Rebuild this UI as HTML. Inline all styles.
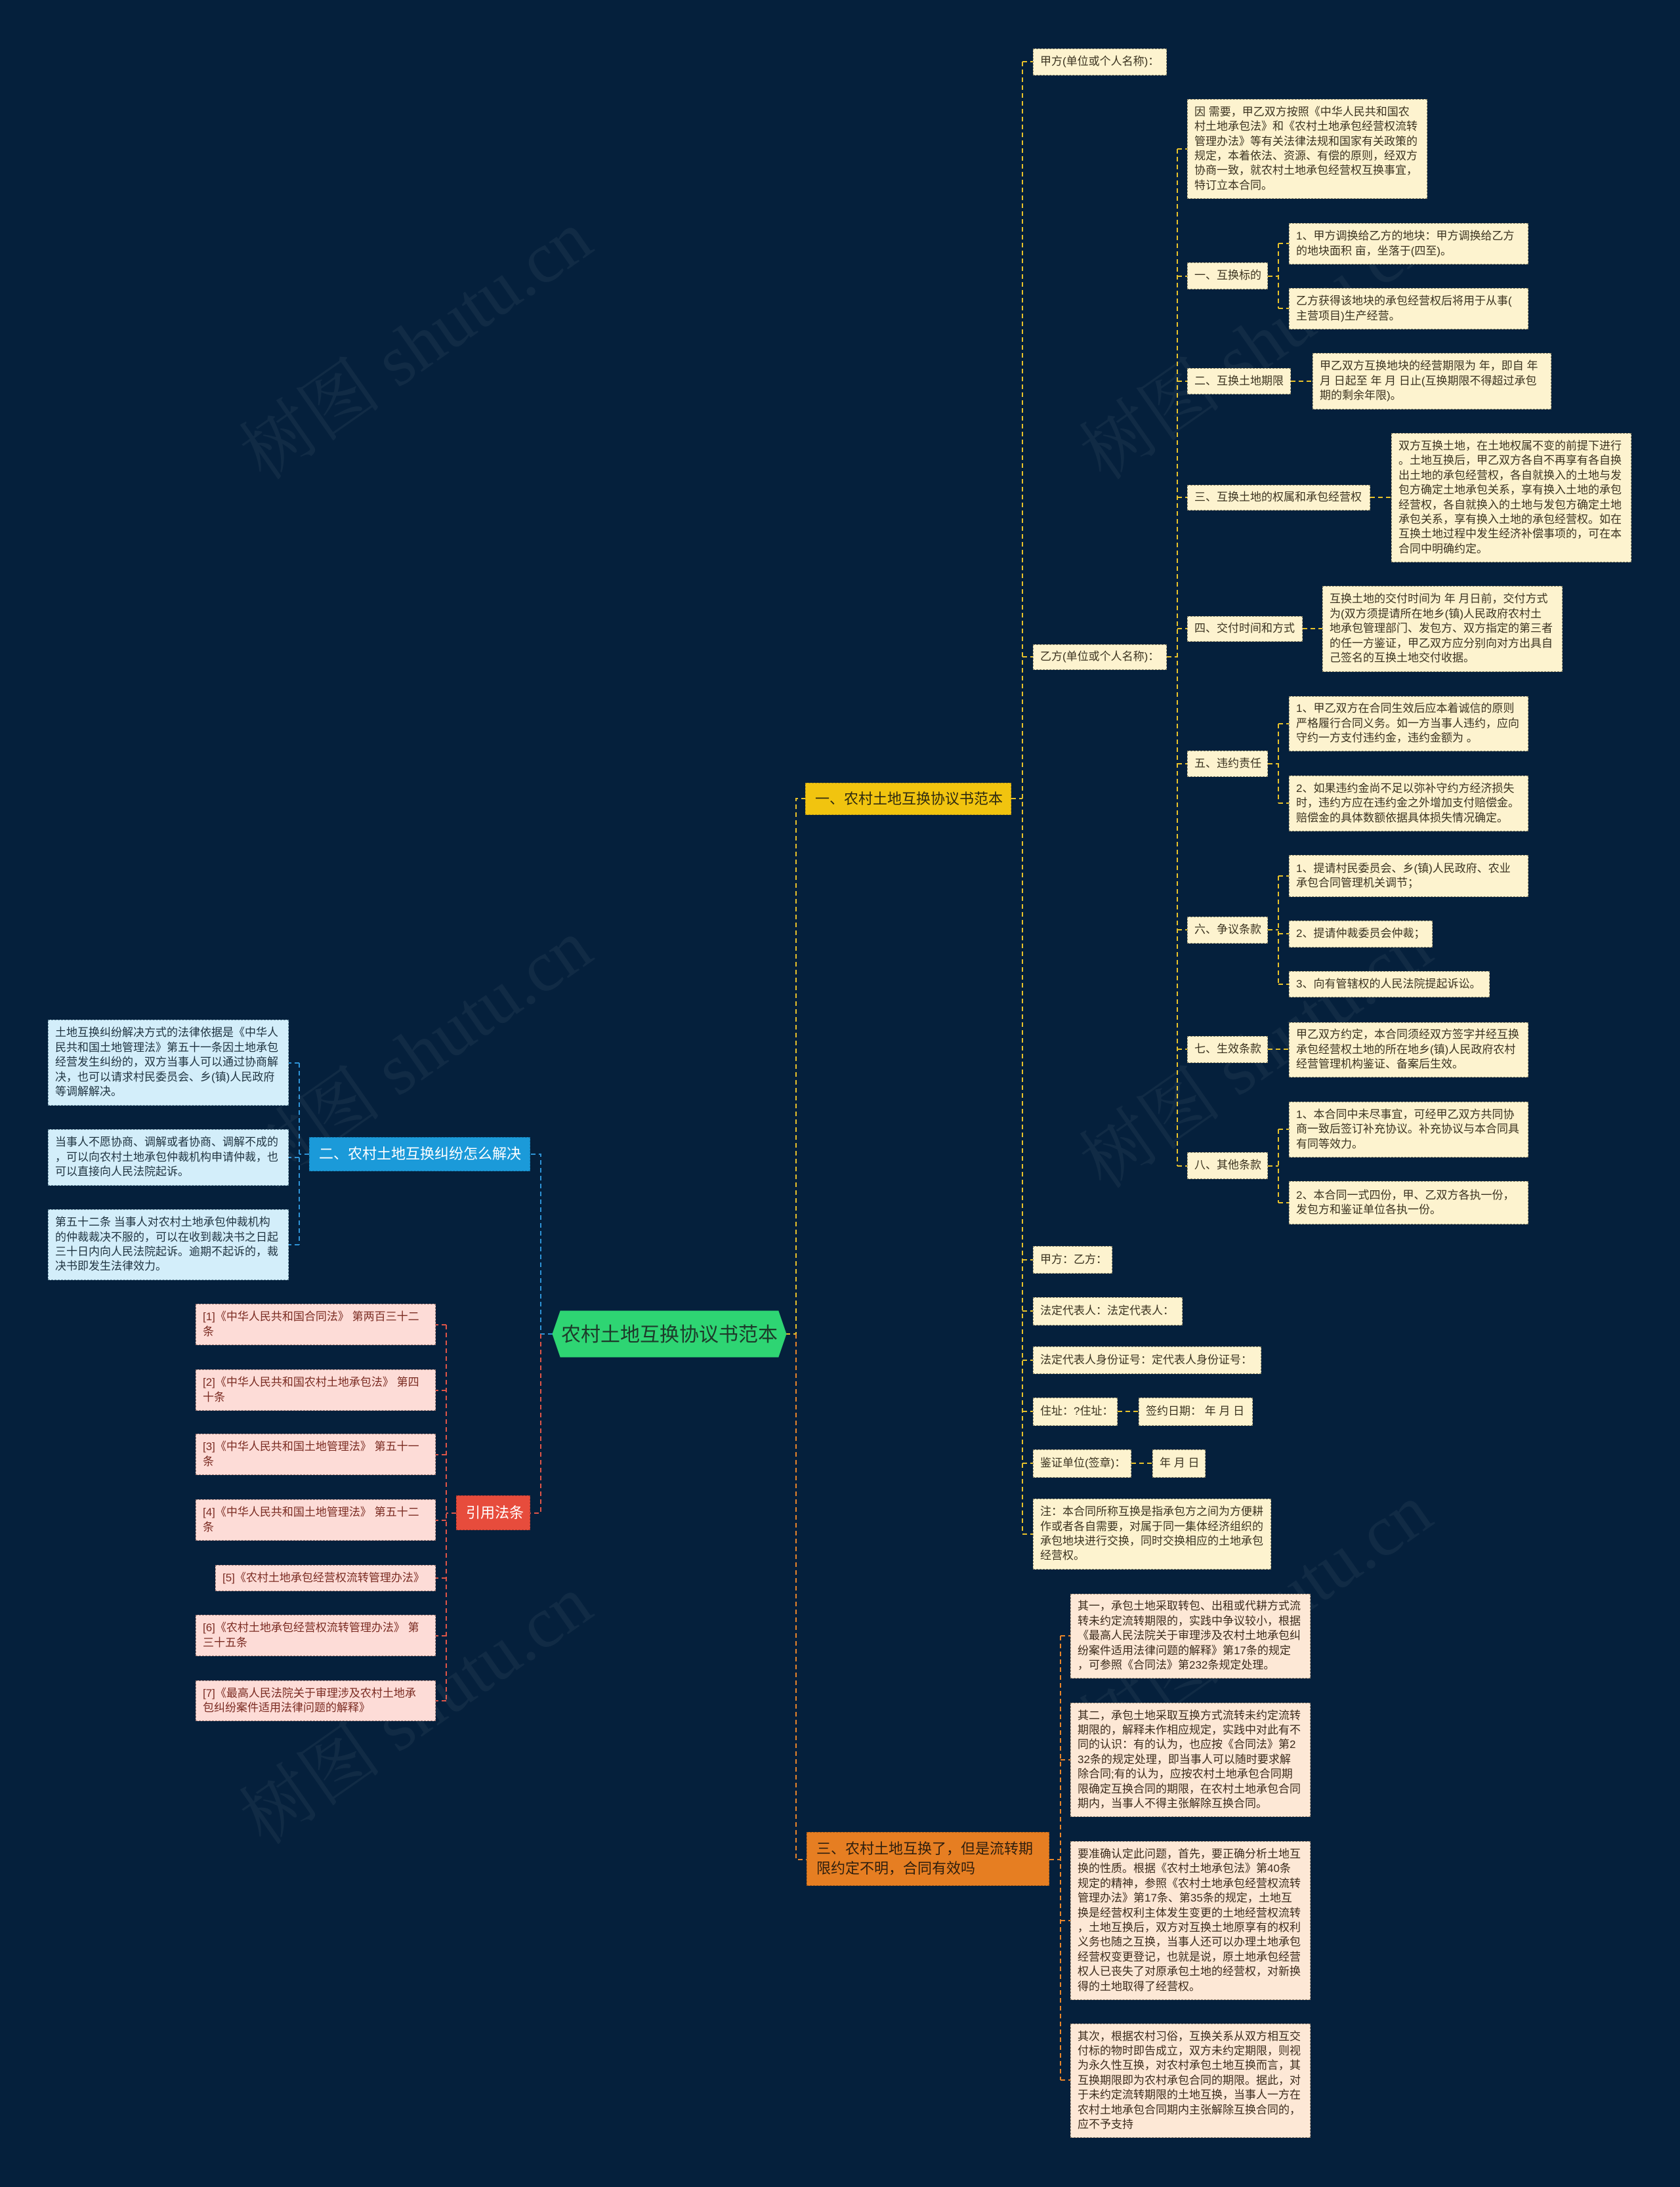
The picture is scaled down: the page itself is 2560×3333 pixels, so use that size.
<!DOCTYPE html>
<html><head><meta charset="utf-8">
<style>
html,body{margin:0;padding:0;}
body{width:2560px;height:3333px;background:#05203c;position:relative;overflow:hidden;font-family:"Liberation Sans","Noto Sans CJK SC",sans-serif;}
.n{position:absolute;box-sizing:border-box;display:flex;align-items:center;padding:0 10px;font-size:17px;line-height:22.4px;white-space:nowrap;border:1.5px dashed #8c8466;}
.y{background:#fdf3cf;color:#3b3320;}
.b{background:#d3eefa;color:#1f3340;border-color:#6a8ea0;}
.p{background:#fddcd7;color:#7a2b22;border-color:#a07a74;}
.o{background:#fde8d6;color:#3b2b1c;border-color:#a08a74;}
.m{font-size:22px;line-height:30px;padding:0 14px;}
.wm{position:absolute;font-size:110px;color:rgba(255,255,255,0.05);transform:rotate(-35deg);white-space:nowrap;font-family:"Liberation Serif","Noto Serif CJK SC",serif;}
</style></head><body>
<svg width="2560" height="3333" style="position:absolute;left:0;top:0" fill="none" stroke-width="2" stroke-dasharray="7 5">
<g stroke="#e8c22a">
<path d="M1197 2033 H1213 V1217 H1227"/>
<path d="M1541 1217 H1558"/>
<path d="M1558 94 V2338"/>
<path d="M1558 94 H1574 M1558 1001 H1574 M1558 1920 H1574 M1558 1998 H1574 M1558 2073 H1574 M1558 2151 H1574 M1558 2230 H1574 M1558 2338 H1574"/>
<path d="M1703 2151 H1735 M1724 2230 H1756"/>
<path d="M1778 1001 H1794 M1794 227 V1777"/>
<path d="M1794 227 H1809 M1794 421 H1809 M1794 581 H1809 M1794 758 H1809 M1794 958 H1809 M1794 1164 H1809 M1794 1417 H1809 M1794 1599 H1809 M1794 1777 H1809"/>
<path d="M1932 421 H1948 M1948 371 V470 M1948 371 H1964 M1948 470 H1964"/>
<path d="M1967 581 H2000 M2088 758 H2120 M1985 958 H2015"/>
<path d="M1932 1164 H1948 M1948 1103 V1224 M1948 1103 H1964 M1948 1224 H1964"/>
<path d="M1932 1417 H1948 M1948 1335 V1500 M1948 1335 H1964 M1948 1423 H1964 M1948 1500 H1964"/>
<path d="M1932 1599 H1964"/>
<path d="M1932 1777 H1948 M1948 1721 V1833 M1948 1721 H1964 M1948 1833 H1964"/>
</g>
<g stroke="#e8852a">
<path d="M1213 2033 V2834 H1229"/>
<path d="M1599 2834 H1616 M1616 2493 V3170 M1616 2493 H1631 M1616 2682 H1631 M1616 2927 H1631 M1616 3170 H1631"/>
</g>
<g stroke="#2e93d6">
<path d="M842 2033 H824 V1759 H807"/>
<path d="M471 1759 H456 M456 1620 V1897 M456 1620 H440 M456 1764 H440 M456 1897 H440"/>
</g>
<g stroke="#e05548">
<path d="M824 2033 V2306 H807"/>
<path d="M695 2306 H680 M680 2019 V2592 M680 2019 H664 M680 2119 H664 M680 2217 H664 M680 2317 H664 M680 2405 H664 M680 2493 H664 M680 2592 H664"/>
</g>
</svg>

<div class="wm" style="left:320px;top:440px">树图 shutu.cn</div>
<div class="wm" style="left:1600px;top:440px">树图 shutu.cn</div>
<div class="wm" style="left:320px;top:1520px">树图 shutu.cn</div>
<div class="wm" style="left:1600px;top:1520px">树图 shutu.cn</div>
<div class="wm" style="left:320px;top:2520px">树图 shutu.cn</div>
<div class="wm" style="left:1600px;top:2380px">树图 shutu.cn</div>

<!-- center -->
<svg style="position:absolute;left:840px;top:1997px" width="360" height="72"><polygon points="14,1 346,1 358,36 346,71 14,71 2,36" fill="#2ed573" stroke="#2ed573"/><text x="180" y="47" text-anchor="middle" font-size="30" fill="#1d3a2a" font-family="Liberation Sans, Noto Sans CJK SC, sans-serif">农村土地互换协议书范本</text></svg>

<!-- main branches -->
<div class="n m" style="left:1227px;top:1193px;width:314px;height:49px;background:#f1c40f;color:#2e2a10;border-color:#b8951a">一、农村土地互换协议书范本</div>
<div class="n m" style="left:471px;top:1733px;width:337px;height:52px;background:#1b9ad9;color:#fff;border-color:#1479ad">二、农村土地互换纠纷怎么解决</div>
<div class="n m" style="left:695px;top:2279px;width:113px;height:53px;background:#e74c3c;color:#fff;border-color:#a8372c">引用法条</div>
<div class="n m" style="left:1229px;top:2792px;width:370px;height:82px;background:#e67e22;color:#2e1e0e;border-color:#a85c18">三、农村土地互换了，但是流转期<br>限约定不明，合同有效吗</div>

<!-- 一 children -->
<div class="n y" style="left:1574px;top:74px;width:204px;height:41px">甲方(单位或个人名称)：</div>
<div class="n y" style="left:1574px;top:982px;width:204px;height:39px">乙方(单位或个人名称)：</div>
<div class="n y" style="left:1574px;top:1899px;width:121px;height:42px">甲方：乙方：</div>
<div class="n y" style="left:1574px;top:1977px;width:228px;height:43px">法定代表人：法定代表人：</div>
<div class="n y" style="left:1574px;top:2052px;width:348px;height:42px">法定代表人身份证号：定代表人身份证号：</div>
<div class="n y" style="left:1574px;top:2130px;width:129px;height:43px">住址：?住址：</div>
<div class="n y" style="left:1735px;top:2130px;width:174px;height:43px">签约日期：&nbsp;年 月 日</div>
<div class="n y" style="left:1574px;top:2209px;width:150px;height:43px">鉴证单位(签章)：</div>
<div class="n y" style="left:1756px;top:2209px;width:81px;height:43px">年 月 日</div>
<div class="n y" style="left:1574px;top:2284px;width:363px;height:108px">注：本合同所称互换是指承包方之间为方便耕<br>作或者各自需要，对属于同一集体经济组织的<br>承包地块进行交换，同时交换相应的土地承包<br>经营权。</div>

<!-- 乙方 children -->
<div class="n y" style="left:1809px;top:151px;width:366px;height:152px">因 需要，甲乙双方按照《中华人民共和国农<br>村土地承包法》和《农村土地承包经营权流转<br>管理办法》等有关法律法规和国家有关政策的<br>规定，本着依法、资源、有偿的原则，经双方<br>协商一致，就农村土地承包经营权互换事宜，<br>特订立本合同。</div>
<div class="n y" style="left:1809px;top:400px;width:123px;height:41px">一、互换标的</div>
<div class="n y" style="left:1964px;top:340px;width:365px;height:63px">1、甲方调换给乙方的地块：甲方调换给乙方<br>的地块面积 亩，坐落于(四至)。</div>
<div class="n y" style="left:1964px;top:439px;width:365px;height:63px">乙方获得该地块的承包经营权后将用于从事(<br>主营项目)生产经营。</div>
<div class="n y" style="left:1809px;top:561px;width:158px;height:40px">二、互换土地期限</div>
<div class="n y" style="left:2000px;top:538px;width:364px;height:86px">甲乙双方互换地块的经营期限为 年，即自 年<br>月 日起至 年 月 日止(互换期限不得超过承包<br>期的剩余年限)。</div>
<div class="n y" style="left:1809px;top:739px;width:279px;height:39px">三、互换土地的权属和承包经营权</div>
<div class="n y" style="left:2120px;top:660px;width:366px;height:197px">双方互换土地，在土地权属不变的前提下进行<br>。土地互换后，甲乙双方各自不再享有各自换<br>出土地的承包经营权，各自就换入的土地与发<br>包方确定土地承包关系，享有换入土地的承包<br>经营权，各自就换入的土地与发包方确定土地<br>承包关系，享有换入土地的承包经营权。如在<br>互换土地过程中发生经济补偿事项的，可在本<br>合同中明确约定。</div>
<div class="n y" style="left:1809px;top:939px;width:176px;height:39px">四、交付时间和方式</div>
<div class="n y" style="left:2015px;top:893px;width:366px;height:131px">互换土地的交付时间为 年 月日前，交付方式<br>为(双方须提请所在地乡(镇)人民政府农村土<br>地承包管理部门、发包方、双方指定的第三者<br>的任一方鉴证，甲乙双方应分别向对方出具自<br>己签名的互换土地交付收据。</div>
<div class="n y" style="left:1809px;top:1144px;width:123px;height:40px">五、违约责任</div>
<div class="n y" style="left:1964px;top:1061px;width:365px;height:84px">1、甲乙双方在合同生效后应本着诚信的原则<br>严格履行合同义务。如一方当事人违约，应向<br>守约一方支付违约金，违约金额为 。</div>
<div class="n y" style="left:1964px;top:1182px;width:365px;height:85px">2、如果违约金尚不足以弥补守约方经济损失<br>时，违约方应在违约金之外增加支付赔偿金。<br>赔偿金的具体数额依据具体损失情况确定。</div>
<div class="n y" style="left:1809px;top:1397px;width:123px;height:41px">六、争议条款</div>
<div class="n y" style="left:1964px;top:1303px;width:365px;height:64px">1、提请村民委员会、乡(镇)人民政府、农业<br>承包合同管理机关调节；</div>
<div class="n y" style="left:1964px;top:1403px;width:219px;height:41px">2、提请仲裁委员会仲裁；</div>
<div class="n y" style="left:1964px;top:1480px;width:306px;height:40px">3、向有管辖权的人民法院提起诉讼。</div>
<div class="n y" style="left:1809px;top:1579px;width:123px;height:41px">七、生效条款</div>
<div class="n y" style="left:1964px;top:1558px;width:365px;height:84px">甲乙双方约定，本合同须经双方签字并经互换<br>承包经营权土地的所在地乡(镇)人民政府农村<br>经营管理机构鉴证、备案后生效。</div>
<div class="n y" style="left:1809px;top:1756px;width:123px;height:41px">八、其他条款</div>
<div class="n y" style="left:1964px;top:1679px;width:365px;height:85px">1、本合同中未尽事宜，可经甲乙双方共同协<br>商一致后签订补充协议。补充协议与本合同具<br>有同等效力。</div>
<div class="n y" style="left:1964px;top:1800px;width:365px;height:66px">2、本合同一式四份，甲、乙双方各执一份，<br>发包方和鉴证单位各执一份。</div>

<!-- 二 children -->
<div class="n b" style="left:73px;top:1554px;width:367px;height:131px">土地互换纠纷解决方式的法律依据是《中华人<br>民共和国土地管理法》第五十一条因土地承包<br>经营发生纠纷的，双方当事人可以通过协商解<br>决，也可以请求村民委员会、乡(镇)人民政府<br>等调解解决。</div>
<div class="n b" style="left:73px;top:1721px;width:367px;height:86px">当事人不愿协商、调解或者协商、调解不成的<br>，可以向农村土地承包仲裁机构申请仲裁，也<br>可以直接向人民法院起诉。</div>
<div class="n b" style="left:73px;top:1843px;width:367px;height:108px">第五十二条 当事人对农村土地承包仲裁机构<br>的仲裁裁决不服的，可以在收到裁决书之日起<br>三十日内向人民法院起诉。逾期不起诉的，裁<br>决书即发生法律效力。</div>

<!-- 引用法条 children -->
<div class="n p" style="left:298px;top:1987px;width:366px;height:63px">[1]《中华人民共和国合同法》 第两百三十二<br>条</div>
<div class="n p" style="left:298px;top:2087px;width:366px;height:63px">[2]《中华人民共和国农村土地承包法》 第四<br>十条</div>
<div class="n p" style="left:298px;top:2185px;width:366px;height:63px">[3]《中华人民共和国土地管理法》 第五十一<br>条</div>
<div class="n p" style="left:298px;top:2285px;width:366px;height:63px">[4]《中华人民共和国土地管理法》 第五十二<br>条</div>
<div class="n p" style="left:328px;top:2385px;width:336px;height:40px">[5]《农村土地承包经营权流转管理办法》</div>
<div class="n p" style="left:298px;top:2461px;width:366px;height:63px">[6]《农村土地承包经营权流转管理办法》 第<br>三十五条</div>
<div class="n p" style="left:298px;top:2561px;width:366px;height:62px">[7]《最高人民法院关于审理涉及农村土地承<br>包纠纷案件适用法律问题的解释》</div>

<!-- 三 children -->
<div class="n o" style="left:1631px;top:2429px;width:366px;height:129px">其一，承包土地采取转包、出租或代耕方式流<br>转未约定流转期限的，实践中争议较小，根据<br>《最高人民法院关于审理涉及农村土地承包纠<br>纷案件适用法律问题的解释》第17条的规定<br>，可参照《合同法》第232条规定处理。</div>
<div class="n o" style="left:1631px;top:2595px;width:366px;height:174px">其二，承包土地采取互换方式流转未约定流转<br>期限的，解释未作相应规定，实践中对此有不<br>同的认识：有的认为，也应按《合同法》第2<br>32条的规定处理，即当事人可以随时要求解<br>除合同;有的认为，应按农村土地承包合同期<br>限确定互换合同的期限，在农村土地承包合同<br>期内，当事人不得主张解除互换合同。</div>
<div class="n o" style="left:1631px;top:2806px;width:366px;height:242px">要准确认定此问题，首先，要正确分析土地互<br>换的性质。根据《农村土地承包法》第40条<br>规定的精神，参照《农村土地承包经营权流转<br>管理办法》第17条、第35条的规定，土地互<br>换是经营权利主体发生变更的土地经营权流转<br>，土地互换后，双方对互换土地原享有的权利<br>义务也随之互换，当事人还可以办理土地承包<br>经营权变更登记，也就是说，原土地承包经营<br>权人已丧失了对原承包土地的经营权，对新换<br>得的土地取得了经营权。</div>
<div class="n o" style="left:1631px;top:3084px;width:366px;height:174px">其次，根据农村习俗，互换关系从双方相互交<br>付标的物时即告成立，双方未约定期限，则视<br>为永久性互换，对农村承包土地互换而言，其<br>互换期限即为农村承包合同的期限。据此，对<br>于未约定流转期限的土地互换，当事人一方在<br>农村土地承包合同期内主张解除互换合同的，<br>应不予支持</div>
</body></html>
